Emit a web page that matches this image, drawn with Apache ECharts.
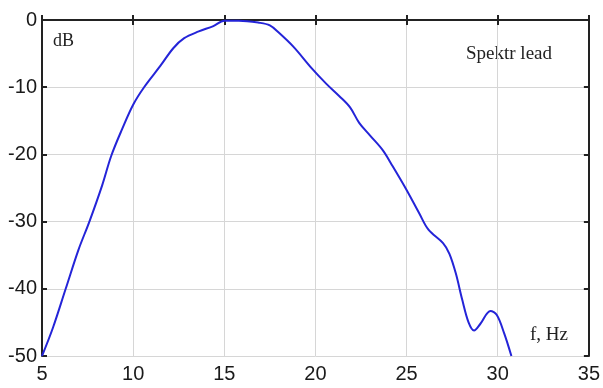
<!DOCTYPE html>
<html><head><meta charset="utf-8">
<script src="https://cdn.jsdelivr.net/npm/echarts@6/dist/echarts.min.js"></script>
<style>html,body{margin:0;padding:0;background:#fff}#c{width:603px;height:388px}</style>
</head><body><div id="c"></div>
<script>
const freq = [5.0, 5.6, 6.3, 7.0, 7.6, 8.3, 8.8, 9.4, 10.0, 10.6, 11.5, 12.2, 12.8, 13.6, 14.4, 15.0, 15.8, 16.9, 17.5, 18.0, 18.8, 19.8, 20.6, 21.3, 21.9, 22.4, 23.0, 23.7, 24.2, 25.0, 25.7, 26.2, 27.0, 27.35, 27.7, 28.05, 28.4, 28.7, 29.05, 29.6, 29.95, 30.35, 30.75];
const dB   = [-50, -45.8, -40, -34.2, -30, -24.6, -20.2, -16.2, -12.6, -10.0, -6.8, -4.2, -2.7, -1.7, -0.9, -0.1, -0.1, -0.4, -0.8, -1.9, -4.0, -7.2, -9.5, -11.3, -13.0, -15.3, -17.2, -19.4, -21.6, -25.3, -28.8, -31.2, -33.2, -34.8, -37.7, -41.6, -45.0, -46.2, -45.2, -43.3, -43.9, -46.6, -50];
const xTicks = [5, 10, 15, 20, 25, 30, 35];
const yTicks = [-50, -40, -30, -20, -10, 0];
const yLabel = 'dB', xLabel = 'f, Hz', title = 'Spektr lead';

const chart = echarts.init(document.getElementById('c'));
const lab = {fontFamily: 'Liberation Sans, Arial, sans-serif', fontSize: 20, color: '#1a1a1a'};
const axLine = {show: true, lineStyle: {color: '#222', width: 2}};
const tick = {show: true, inside: true, length: 5, lineStyle: {color: '#222', width: 2}};
const split = {show: true, lineStyle: {color: '#d6d6d6', width: 1}};
chart.setOption({
  animation: false,
  grid: {left: 42, right: 13, top: 20, bottom: 32},
  xAxis: [
    {type: 'value', min: xTicks[0], max: xTicks[xTicks.length-1], interval: 5, position: 'bottom',
     axisLine: axLine, axisTick: tick, splitLine: split, axisLabel: Object.assign({margin: 8}, lab)},
    {type: 'value', min: xTicks[0], max: xTicks[xTicks.length-1], interval: 5, position: 'top',
     axisLine: axLine, axisTick: tick, splitLine: {show: false}, axisLabel: {show: false}}
  ],
  yAxis: [
    {type: 'value', min: yTicks[0], max: yTicks[yTicks.length-1], interval: 10, position: 'left',
     axisLine: axLine, axisTick: tick, splitLine: split, axisLabel: Object.assign({margin: 5}, lab)},
    {type: 'value', min: yTicks[0], max: yTicks[yTicks.length-1], interval: 10, position: 'right',
     axisLine: axLine, axisTick: tick, splitLine: {show: false}, axisLabel: {show: false}}
  ],
  graphic: [
    {type: 'text', left: 53, top: 32, style: {text: yLabel, font: '18px "Liberation Serif", serif', fill: '#222'}},
    {type: 'text', left: 466, top: 45, style: {text: title, font: '19px "Liberation Serif", serif', fill: '#222'}},
    {type: 'text', left: 530, top: 326, style: {text: xLabel, font: '19px "Liberation Serif", serif', fill: '#222'}}
  ],
  series: [{
    type: 'line', xAxisIndex: 0, yAxisIndex: 0, showSymbol: false, smooth: 0.35, clip: true,
    lineStyle: {color: '#2424d8', width: 2},
    data: freq.map((f, i) => [f, dB[i]])
  }]
});
</script></body></html>
